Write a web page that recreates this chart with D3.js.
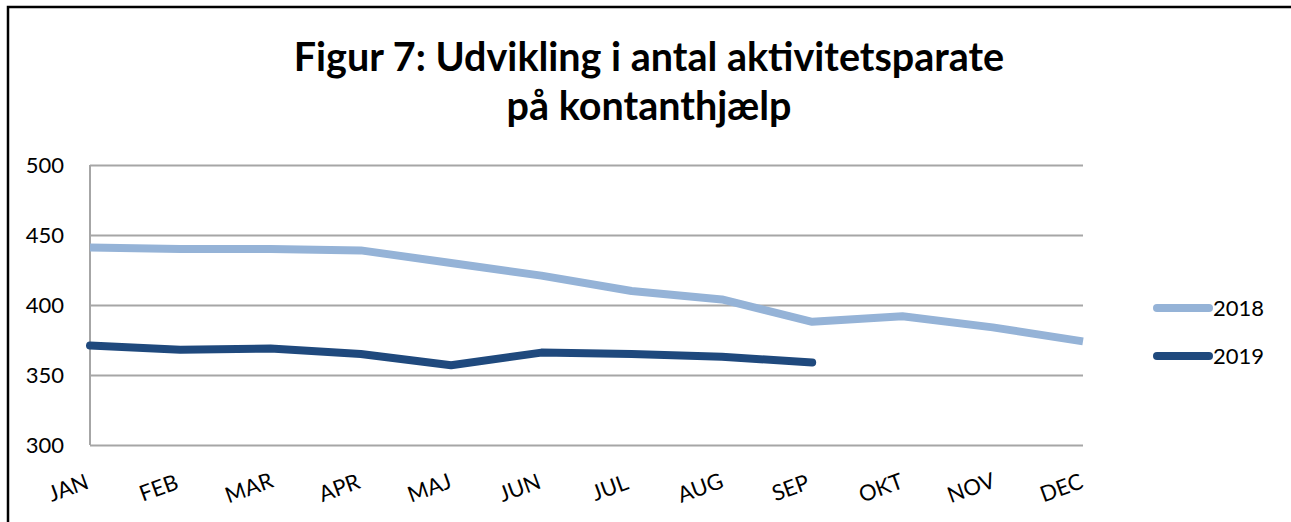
<!DOCTYPE html>
<html>
<head>
<meta charset="utf-8">
<script src="https://cdn.jsdelivr.net/npm/d3@7"></script>
<style>
  body { margin: 0; background: #fff; }
  svg { display: block; font-family: Lato, "Open Sans", sans-serif; }
</style>
</head>
<body>
<div id="chart"></div>
<script>
'use strict';

const months = ['JAN', 'FEB', 'MAR', 'APR', 'MAJ', 'JUN', 'JUL', 'AUG', 'SEP', 'OKT', 'NOV', 'DEC'];
const values2018 = [441, 440, 440, 439, 430, 421, 410, 404, 388, 392, 384, 374];
const values2019 = [371, 368, 369, 365, 357, 366, 365, 363, 359];
const yTicks = [300, 350, 400, 450, 500];
const seriesNames = ['2018', '2019'];
const seriesColors = ['#95b3d7', '#1f497d'];

const W = 1291, H = 522;
const margin = { top: 165, right: 208, bottom: 77, left: 90 };
const width = W - margin.left - margin.right;
const height = H - margin.top - margin.bottom;

const svg = d3.select('#chart').append('svg')
    .attr('width', W)
    .attr('height', H);

// frame (only top and left edges visible)
svg.append('path')
    .attr('d', `M8,${H} L8,7 L${W},7`)
    .attr('fill', 'none')
    .attr('stroke', '#000')
    .attr('stroke-width', 2.5);

svg.append('text')
    .attr('x', 649).attr('y', 71)
    .attr('text-anchor', 'middle')
    .attr('font-size', 39.5).attr('font-weight', 'bold')
    .text('Figur 7: Udvikling i antal aktivitetsparate');
svg.append('text')
    .attr('x', 649).attr('y', 120)
    .attr('text-anchor', 'middle')
    .attr('font-size', 39.5).attr('font-weight', 'bold')
    .text('på kontanthjælp');

const g = svg.append('g')
    .attr('transform', `translate(${margin.left},${margin.top})`);

const x = d3.scalePoint().domain(months).range([0, width]);
const y = d3.scaleLinear().domain([300, 500]).range([height, 0]);

// gridlines
g.append('g')
    .attr('class', 'y axis')
    .call(d3.axisLeft(y).tickValues(yTicks).tickSize(-width).tickPadding(26))
    .call(a => a.select('.domain').remove())
    .call(a => a.selectAll('line').attr('stroke', '#a6a6a6').attr('stroke-width', 2))
    .call(a => a.selectAll('text').attr('font-size', 22).attr('fill', '#000')
        .attr('font-family', 'Lato, "Open Sans", sans-serif'));

g.append('line')
    .attr('x1', 0).attr('x2', 0)
    .attr('y1', 0).attr('y2', height)
    .attr('stroke', '#a6a6a6').attr('stroke-width', 2);

// x labels, tilted
g.append('g')
    .selectAll('text')
    .data(months)
    .enter().append('text')
    .attr('transform', d => `translate(${x(d) - 19},${height + 50}) rotate(-20)`)
    .attr('text-anchor', 'middle')
    .attr('font-size', 22)
    .text(d => d);

const line = d3.line()
    .x((d, i) => x(months[i]))
    .y(d => y(d));

[values2018, values2019].forEach((vals, i) => {
    g.append('path')
        .datum(vals)
        .attr('d', line)
        .attr('fill', 'none')
        .attr('stroke', seriesColors[i])
        .attr('stroke-width', 8)
        .attr('stroke-linejoin', 'round')
        .attr('stroke-linecap', i === 1 ? 'round' : 'butt');
});

// legend
const legend = svg.append('g').attr('transform', 'translate(1153,308)');
seriesNames.forEach((name, i) => {
    const row = legend.append('g').attr('transform', `translate(0,${i * 48})`);
    row.append('line')
        .attr('x1', 4).attr('x2', 56)
        .attr('stroke', seriesColors[i])
        .attr('stroke-width', 8)
        .attr('stroke-linecap', 'round');
    row.append('text')
        .attr('x', 60).attr('y', 8)
        .attr('font-size', 22)
        .text(name);
});
</script>
</body>
</html>
